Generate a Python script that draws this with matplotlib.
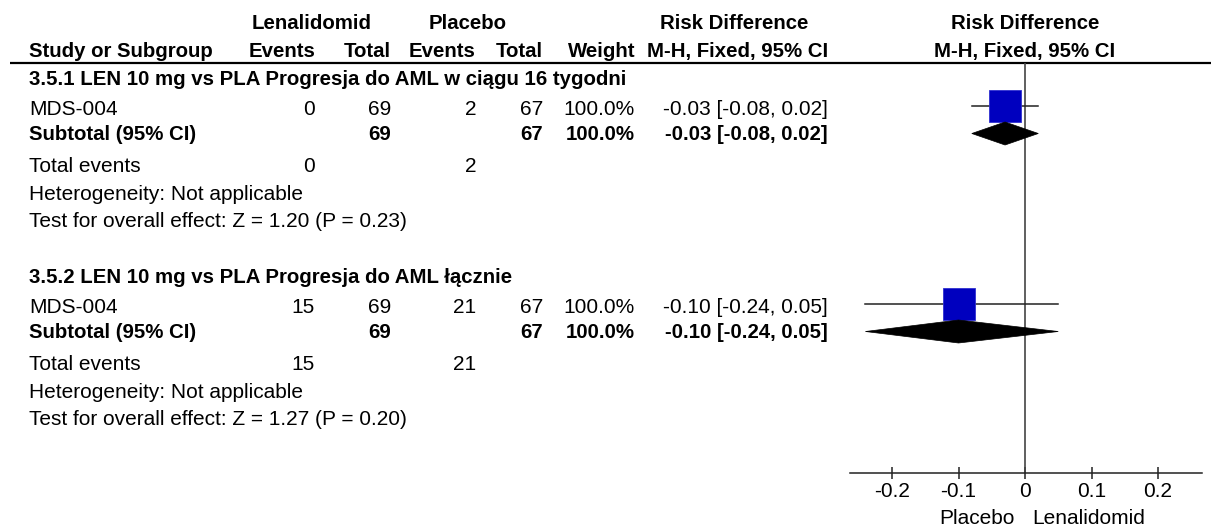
import matplotlib.pyplot as plt
from matplotlib.patches import Polygon, Rectangle

plt.rcParams['font.family'] = ['Liberation Sans', 'DejaVu Sans']

# dane z obu analiz
subgroups = ["3.5.1 LEN 10 mg vs PLA Progresja do AML w ciągu 16 tygodni",
             "3.5.2 LEN 10 mg vs PLA Progresja do AML łącznie"]
study = ["MDS-004", "MDS-004"]
len_events = [0, 15]
len_total = [69, 69]
pla_events = [2, 21]
pla_total = [67, 67]
weight = ["100.0%", "100.0%"]
rd = [-0.03, -0.10]
ci_low = [-0.08, -0.24]
ci_high = [0.02, 0.05]
z_test = ["Z = 1.20 (P = 0.23)", "Z = 1.27 (P = 0.20)"]
xticks = [-0.2, -0.1, 0, 0.1, 0.2]
xtick_labels = ["-0.2", "-0.1", "0", "0.1", "0.2"]

W, H = 1211, 530
fig = plt.figure(figsize=(W / 100, H / 100), dpi=100)

# osie tekstowe w pikselach
ax = fig.add_axes([0, 0, 1, 1])
ax.set_xlim(0, W)
ax.set_ylim(H, 0)
ax.axis('off')

fs = 15.0
fs_bold = 14.7
col = 'black'


def txt(x, y, s, ha='left', bold=False):
    # y = srodek wielkich liter, tekst rysowany od linii bazowej
    ax.text(x, y + 7, s, ha=ha, va='baseline', fontsize=fs_bold if bold else fs,
            color=col, fontweight='bold' if bold else 'normal')


# naglowek
txt(312, 22, "Lenalidomid", 'center', True)
txt(468, 22, "Placebo", 'center', True)
txt(734, 22, "Risk Difference", 'center', True)
txt(1025, 22, "Risk Difference", 'center', True)
txt(29, 50, "Study or Subgroup", 'left', True)
txt(315, 50, "Events", 'right', True)
txt(391, 50, "Total", 'right', True)
txt(476, 50, "Events", 'right', True)
txt(543, 50, "Total", 'right', True)
txt(635, 50, "Weight", 'right', True)
txt(828, 50, "M-H, Fixed, 95% CI", 'right', True)
txt(1025, 50, "M-H, Fixed, 95% CI", 'center', True)
ax.plot([10, W], [62.5, 62.5], color='black', lw=1.6, solid_capstyle='butt')

# wiersze kazdej podgrupy
block_top = [78, 276]
offs = {'study': 30, 'sub': 55, 'tot': 87, 'het': 115, 'test': 142}
study_y = []
sub_y = []
for i in range(2):
    y0 = block_top[i]
    ci_txt = "%.2f [%.2f, %.2f]" % (rd[i], ci_low[i], ci_high[i])
    txt(29, y0, subgroups[i], bold=True)
    ys = y0 + offs['study']
    txt(29, ys, study[i])
    txt(315, ys, str(len_events[i]), 'right')
    txt(391, ys, str(len_total[i]), 'right')
    txt(476, ys, str(pla_events[i]), 'right')
    txt(543, ys, str(pla_total[i]), 'right')
    txt(635, ys, weight[i], 'right')
    txt(828, ys, ci_txt, 'right')
    yb = y0 + offs['sub']
    txt(29, yb, "Subtotal (95% CI)", bold=True)
    txt(391, yb, str(len_total[i]), 'right', True)
    txt(543, yb, str(pla_total[i]), 'right', True)
    txt(635, yb, weight[i], 'right', True)
    txt(828, yb, ci_txt, 'right', True)
    yt = y0 + offs['tot']
    txt(29, yt, "Total events")
    txt(315, yt, str(len_events[i]), 'right')
    txt(476, yt, str(pla_events[i]), 'right')
    txt(29, y0 + offs['het'], "Heterogeneity: Not applicable")
    txt(29, y0 + offs['test'], "Test for overall effect: " + z_test[i])
    study_y.append(ys - 2)
    sub_y.append(yb + 0.5)

# wykres lesny
x0, x1, ytop, ybot = 850, 1202, 63, 473
fa = fig.add_axes([x0 / W, (H - ybot) / H, (x1 - x0) / W, (ybot - ytop) / H])
fa.patch.set_alpha(0)
px = 665.0  # pikseli na jednostke RD
fa.set_xlim((x0 - 1025) / px, (x1 - 1025) / px)
fa.set_ylim(ybot, ytop)
for s in ['left', 'right', 'top']:
    fa.spines[s].set_visible(False)
fa.spines['bottom'].set_color('#222222')
fa.spines['bottom'].set_linewidth(1.1)
fa.set_yticks([])
fa.set_xticks(xticks)
fa.set_xticklabels(xtick_labels)
fa.tick_params(axis='x', direction='inout', length=9, width=1.1, color='#222222',
               labelsize=fs, labelcolor=col, pad=2)
fa.axvline(0, color='#444444', lw=1.2)

sq = 32
for i in range(2):
    fa.plot([ci_low[i], ci_high[i]], [study_y[i], study_y[i]], color='#222222', lw=1.1)
    fa.add_patch(Rectangle((rd[i] - sq / 2 / px, study_y[i] - sq / 2), sq / px, sq,
                           facecolor='#0000BF', edgecolor='#3030D0', lw=0.6, zorder=3))
    h = 11.5
    fa.add_patch(Polygon([(ci_low[i], sub_y[i]), (rd[i], sub_y[i] - h),
                          (ci_high[i], sub_y[i]), (rd[i], sub_y[i] + h)],
                         closed=True, facecolor='black', edgecolor='black', lw=0.5, zorder=4))

txt(1015, 517, "Placebo", 'right')
txt(1032, 517, "Lenalidomid", 'left')

fig.savefig("out.png", dpi=100)
